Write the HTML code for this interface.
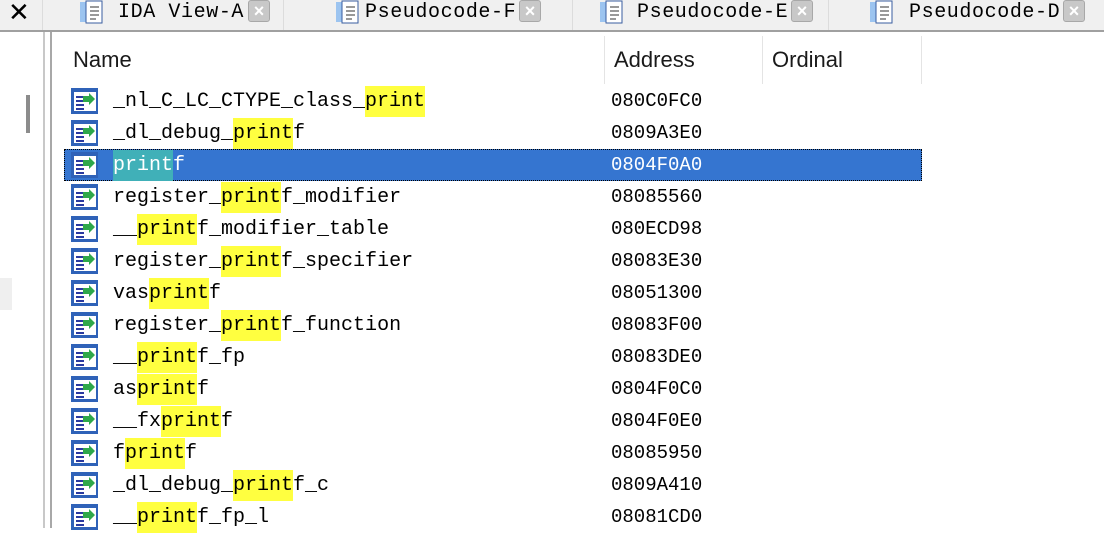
<!DOCTYPE html>
<html><head><meta charset="utf-8"><style>
*{margin:0;padding:0;box-sizing:border-box}
body{width:1104px;height:528px;overflow:hidden;background:#fff;position:relative;font-family:"Liberation Sans",sans-serif}
.tabbar{position:absolute;left:0;top:0;width:1104px;height:32px;background:#f0f0f0;border-bottom:2px solid #a0a0a0}
.tab{position:absolute;top:0;height:30px;font-family:"Liberation Mono",monospace;font-size:20px;line-height:26px;color:#000;letter-spacing:0.6px}
.ticon{position:absolute;top:0;width:28px;height:24px}
.tclose{position:absolute;top:0;width:22px;height:22px;background:#c8c8c8;border:1px solid #a8a8a8;border-radius:3px;color:#fff;font-size:18px;line-height:20px;text-align:center;font-weight:bold}
.sep{position:absolute;top:0;width:1px;height:30px;background:#dcdcdc}
.left{position:absolute;left:0;top:32px;width:45px;height:496px;background:#fff}
.vline{position:absolute;top:32px;height:496px;width:2px;background:#c8c8c8}
.hdr{position:absolute;top:36px;height:48px;font-size:22px;color:#1a1a1a;line-height:48px}
.colsep{position:absolute;top:36px;height:48px;width:1px;background:#e4e4e4}
.row{position:absolute;left:64px;height:32px;width:858px}
.name{position:absolute;left:49px;top:1px;font-family:"Liberation Mono",monospace;font-size:20px;line-height:31px;color:#000;white-space:pre}
.addr{position:absolute;left:547px;top:0;font-family:"Liberation Mono",monospace;font-size:19px;line-height:32px;color:#000}
.y{background:#ffff40;display:inline-block;height:31px}
.icon{position:absolute;left:6px;top:2px;width:30px;height:28px}
.sel{background:#3575d0}
.sel .name,.sel .addr{color:#fff}
.sel .y{background:#40b0b8}
</style></head><body>
<div class="tabbar">
 <div style="position:absolute;left:8px;top:-3px;font-size:26px;color:#000">✕</div>
 <div class="sep" style="left:42px"></div>
 <div class="sep" style="left:283px"></div>
 <div class="sep" style="left:572px"></div>
 <div class="sep" style="left:828px"></div>
 <svg class="ticon" style="left:78px" viewBox="0 0 28 24"><rect x="2" y="2" width="8" height="20" fill="#9cc4f0"/><rect x="8" y="1" width="16" height="22" fill="#fff" stroke="#3a5ea0"/><path d="M12 7h9M12 11h9M12 15h9M12 19h6" stroke="#333"/></svg>
 <div class="tab" style="left:118px">IDA View-A</div>
 <div class="tclose" style="left:248px">×</div>
 <svg class="ticon" style="left:334px" viewBox="0 0 28 24"><rect x="2" y="2" width="8" height="20" fill="#9cc4f0"/><rect x="8" y="1" width="16" height="22" fill="#fff" stroke="#3a5ea0"/><path d="M12 7h9M12 11h9M12 15h9M12 19h6" stroke="#333"/></svg>
 <div class="tab" style="left:365px">Pseudocode-F</div>
 <div class="tclose" style="left:519px">×</div>
 <svg class="ticon" style="left:598px" viewBox="0 0 28 24"><rect x="2" y="2" width="8" height="20" fill="#9cc4f0"/><rect x="8" y="1" width="16" height="22" fill="#fff" stroke="#3a5ea0"/><path d="M12 7h9M12 11h9M12 15h9M12 19h6" stroke="#333"/></svg>
 <div class="tab" style="left:637px">Pseudocode-E</div>
 <div class="tclose" style="left:791px">×</div>
 <svg class="ticon" style="left:868px" viewBox="0 0 28 24"><rect x="2" y="2" width="8" height="20" fill="#9cc4f0"/><rect x="8" y="1" width="16" height="22" fill="#fff" stroke="#3a5ea0"/><path d="M12 7h9M12 11h9M12 15h9M12 19h6" stroke="#333"/></svg>
 <div class="tab" style="left:909px">Pseudocode-D</div>
 <div class="tclose" style="left:1063px">×</div>
</div>
<div class="left"></div>
<div style="position:absolute;left:0;top:278px;width:12px;height:32px;background:#efefef"></div>
<div style="position:absolute;left:26px;top:95px;width:4px;height:38px;background:#8c8c8c"></div>
<div class="vline" style="left:43px"></div>
<div class="vline" style="left:50px;background:#a8a8a8"></div>
<div class="hdr" style="left:73px">Name</div>
<div class="colsep" style="left:604px"></div>
<div class="hdr" style="left:614px">Address</div>
<div class="colsep" style="left:762px"></div>
<div class="hdr" style="left:772px">Ordinal</div>
<div class="colsep" style="left:921px"></div>

<svg width="0" height="0" style="position:absolute"><defs><symbol id="ic" viewBox="0 0 30 28"><rect x="1" y="1" width="27" height="26" fill="#2f62b8"/><rect x="4" y="5" width="22" height="19" fill="#fff"/><path d="M6 10h8M6 14h8M6 18h8M6 22h8" stroke="#2a3aa0" stroke-width="2"/><path d="M25 12l-6-6v3h-6v6h6v3z" fill="#2ea84a"/></symbol></defs></svg>

<div class="row" style="top:85px"><svg class="icon"><use href="#ic"/></svg><div class="name">_nl_C_LC_CTYPE_class_<span class="y">print</span></div><div class="addr">080C0FC0</div></div>
<div class="row" style="top:117px"><svg class="icon"><use href="#ic"/></svg><div class="name">_dl_debug_<span class="y">print</span>f</div><div class="addr">0809A3E0</div></div>
<div class="row sel" style="top:149px;outline:1px dotted #000;outline-offset:-1px"><svg class="icon"><use href="#ic"/></svg><div class="name"><span class="y">print</span>f</div><div class="addr">0804F0A0</div></div>
<div class="row" style="top:181px"><svg class="icon"><use href="#ic"/></svg><div class="name">register_<span class="y">print</span>f_modifier</div><div class="addr">08085560</div></div>
<div class="row" style="top:213px"><svg class="icon"><use href="#ic"/></svg><div class="name">__<span class="y">print</span>f_modifier_table</div><div class="addr">080ECD98</div></div>
<div class="row" style="top:245px"><svg class="icon"><use href="#ic"/></svg><div class="name">register_<span class="y">print</span>f_specifier</div><div class="addr">08083E30</div></div>
<div class="row" style="top:277px"><svg class="icon"><use href="#ic"/></svg><div class="name">vas<span class="y">print</span>f</div><div class="addr">08051300</div></div>
<div class="row" style="top:309px"><svg class="icon"><use href="#ic"/></svg><div class="name">register_<span class="y">print</span>f_function</div><div class="addr">08083F00</div></div>
<div class="row" style="top:341px"><svg class="icon"><use href="#ic"/></svg><div class="name">__<span class="y">print</span>f_fp</div><div class="addr">08083DE0</div></div>
<div class="row" style="top:373px"><svg class="icon"><use href="#ic"/></svg><div class="name">as<span class="y">print</span>f</div><div class="addr">0804F0C0</div></div>
<div class="row" style="top:405px"><svg class="icon"><use href="#ic"/></svg><div class="name">__fx<span class="y">print</span>f</div><div class="addr">0804F0E0</div></div>
<div class="row" style="top:437px"><svg class="icon"><use href="#ic"/></svg><div class="name">f<span class="y">print</span>f</div><div class="addr">08085950</div></div>
<div class="row" style="top:469px"><svg class="icon"><use href="#ic"/></svg><div class="name">_dl_debug_<span class="y">print</span>f_c</div><div class="addr">0809A410</div></div>
<div class="row" style="top:501px"><svg class="icon"><use href="#ic"/></svg><div class="name">__<span class="y">print</span>f_fp_l</div><div class="addr">08081CD0</div></div>
</body></html>
